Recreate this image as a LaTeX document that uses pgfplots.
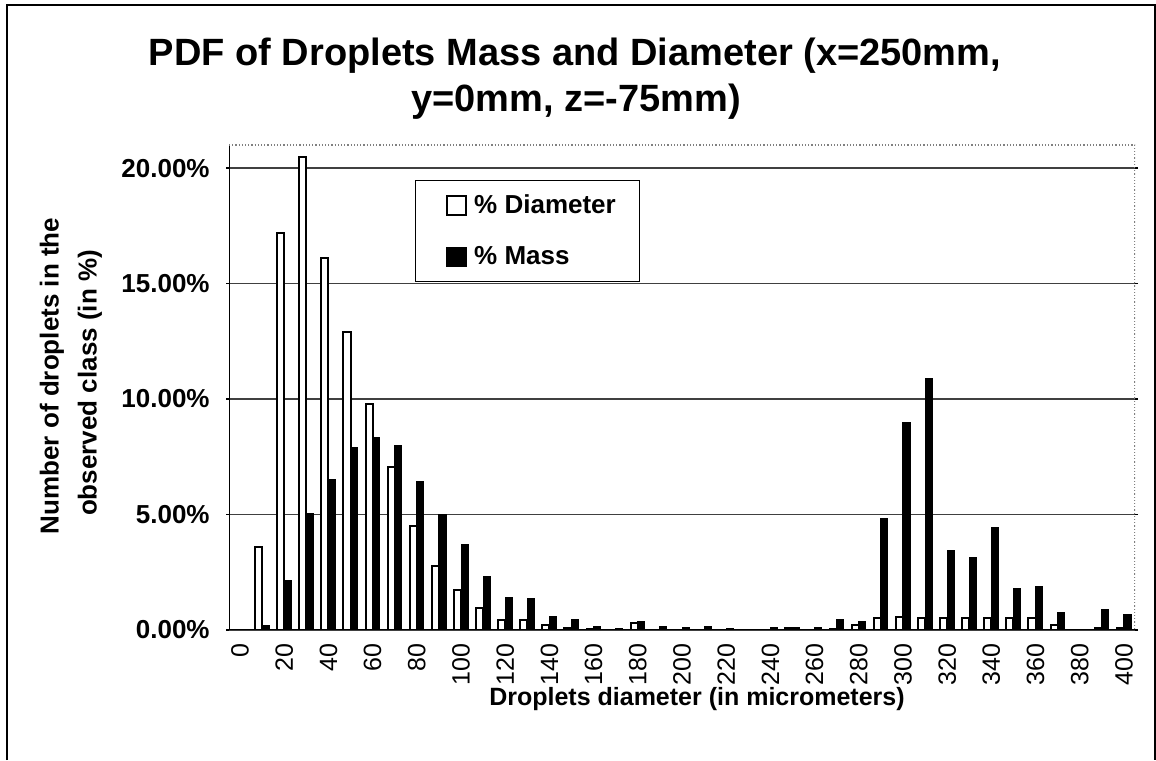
\documentclass[border=0pt]{standalone}
\usepackage{pgfplots}
\usepackage{pgfplotstable}
\pgfplotsset{compat=1.18}
\usepackage{fontspec}
\setmainfont{Liberation Sans}
\pgfplotstableread{
i diam mass
0 0 0
1 3.6 0.2
2 17.2 2.15
3 20.5 5.05
4 16.1 6.5
5 12.9 7.9
6 9.8 8.35
7 7.05 8.0
8 4.5 6.45
9 2.75 5.0
10 1.75 3.7
11 0.95 2.3
12 0.43 1.4
13 0.43 1.35
14 0.2 0.6
15 0.1 0.45
16 0.05 0.15
17 0 0.05
18 0.3 0.36
19 0.02 0.15
20 0.02 0.1
21 0.02 0.15
22 0.02 0.05
23 0 0
24 0.02 0.1
25 0.1 0.1
26 0.02 0.1
27 0.05 0.46
28 0.2 0.38
29 0.5 4.83
30 0.58 9.0
31 0.5 10.9
32 0.5 3.46
33 0.5 3.15
34 0.5 4.43
35 0.5 1.79
36 0.5 1.9
37 0.2 0.75
38 0 0
39 0.1 0.87
40 0.1 0.65
}\pdfdata
\begin{document}
\begin{tikzpicture}[x=1pt,y=1pt]
\path[use as bounding box] (0,0) rectangle (578,380);
\draw[line width=1pt] (3.5,0) -- (3.5,377.5) -- (577.5,377.5) -- (577.5,0);
\begin{axis}[
  at={(114.5pt,65pt)}, anchor=south west,
  scale only axis, width=453pt, height=242.5pt,
  xmin=-0.5, xmax=40.5, ymin=0, ymax=21,
  axis line style={draw=none},
  xtick={0,2,...,40},
  xticklabels={\textnormal{0},\textnormal{20},\textnormal{40},\textnormal{60},\textnormal{80},\textnormal{100},\textnormal{120},\textnormal{140},\textnormal{160},\textnormal{180},\textnormal{200},\textnormal{220},\textnormal{240},\textnormal{260},\textnormal{280},\textnormal{300},\textnormal{320},\textnormal{340},\textnormal{360},\textnormal{380},\textnormal{400}},
  minor xtick={-0.5,0.5,...,40.5},
  xtick style={draw=none},
  minor x tick style={black, line width=0.7pt},
  minor tick length=3pt,
  major tick length=1.5pt,
  tick align=outside,
  xticklabel style={rotate=90, anchor=east, inner sep=0pt, font=\fontsize{12.5}{14}\selectfont, xshift=-5pt},
  ytick={0,5,10,15,20},
  yticklabels={\textbf{0.00\%},\textbf{5.00\%},\textbf{10.00\%},\textbf{15.00\%},\textbf{20.00\%}},
  yticklabel style={anchor=east, inner sep=0pt, xshift=-8pt, font=\fontsize{13}{15}\selectfont\bfseries},
  ytick style={black, line width=0.6pt},
  ymajorgrids,
  grid style={black!75, line width=0.6pt},
  legend style={at={(rel axis cs:0.205,0.928)}, anchor=north west, draw=black, line width=0.5pt,
     font=\fontsize{13}{15}\selectfont\bfseries, row sep=11pt, inner xsep=10pt, inner ysep=5pt,
     cells={anchor=west}},
  legend cell align=left,
]
\addplot[ybar, bar width=0.32, bar shift=-0.16, fill=white, draw=black, line width=1pt,
  legend image code/.code={\path[draw=none,fill=none] (0pt,0pt) -- (17.5pt,0pt);\draw[fill=white,draw=black,line width=0.8pt] (6pt,-4.75pt) rectangle (15.5pt,4.75pt);}]
  table[x=i, y=diam] {\pdfdata};
\addlegendentry{\% Diameter}
\addplot[ybar, bar width=0.32, bar shift=0.16, fill=black, draw=black, line width=0.5pt,
  legend image code/.code={\path[draw=none,fill=none] (0pt,0pt) -- (17.5pt,0pt);\draw[fill=black,draw=black,line width=0.8pt] (6pt,-4.75pt) rectangle (15.5pt,4.75pt);}]
  table[x=i, y=mass] {\pdfdata};
\addlegendentry{\% Mass}
\draw[black, line width=0.8pt] (rel axis cs:0,1) -- (rel axis cs:0,0) -- (rel axis cs:1,0);
\draw[black!50, densely dotted, line width=0.6pt] (rel axis cs:0,1) -- (rel axis cs:1,1) -- (rel axis cs:1,0);
\end{axis}
\node[anchor=base, font=\fontsize{19}{22}\selectfont\bfseries] at (287.5,347) {PDF of Droplets Mass and Diameter (x=250mm,};
\node[anchor=base, font=\fontsize{19}{22}\selectfont\bfseries] at (288,324) {y=0mm, z=-75mm)};
\node[font=\fontsize{12.5}{14}\selectfont\bfseries] at (348.5,30.5) {Droplets diameter (in micrometers)};
\node[rotate=90, font=\fontsize{13}{15}\selectfont\bfseries] at (26,192) {Number of droplets in the};
\node[rotate=90, font=\fontsize{13}{15}\selectfont\bfseries] at (45,188.5) {observed class (in \%)};
\end{tikzpicture}
\end{document}
